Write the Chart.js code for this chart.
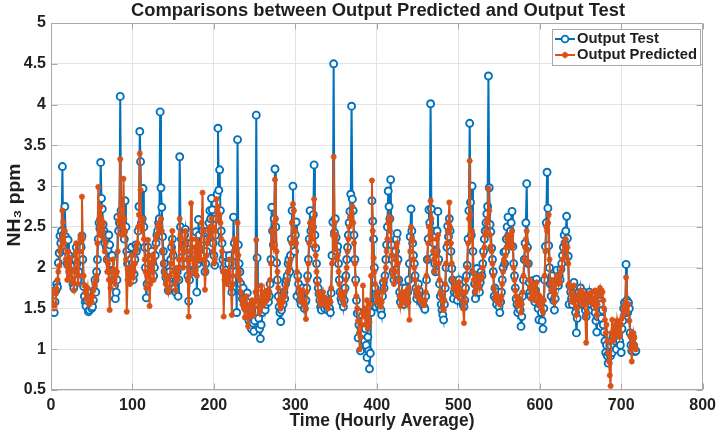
<!DOCTYPE html>
<html><head><meta charset="utf-8">
<script src="https://cdn.jsdelivr.net/npm/chart.js@4/dist/chart.umd.min.js"></script>
<style>html,body{margin:0;padding:0;background:#fff;}canvas{display:block;}</style>
</head><body>
<canvas id="c" width="722" height="436"></canvas>
<script>
const outputTest = [
1.53,1.49,1.46,1.45,1.58,1.72,1.80,1.76,2.06,2.18,2.39,2.30,
2.45,3.24,2.40,2.32,2.75,2.38,2.20,2.05,2.34,2.15,1.95,2.10,
2.02,1.88,1.80,1.75,1.92,2.10,2.25,2.05,1.85,1.95,2.15,2.28,
2.25,2.39,2.10,1.77,1.65,1.58,1.53,1.60,1.70,1.46,1.48,1.62,
1.55,1.50,1.52,1.60,1.72,1.85,1.70,1.95,2.10,2.35,2.55,2.48,
3.29,2.85,2.72,2.53,2.45,2.30,2.40,2.25,2.10,2.22,2.40,2.28,
2.05,1.95,2.15,1.90,1.85,1.78,1.62,1.70,1.85,2.62,2.45,2.55,
4.10,2.70,2.55,2.60,2.45,2.35,2.82,2.50,2.20,2.05,2.15,1.98,
1.95,2.10,2.25,2.05,1.85,1.92,2.10,2.28,2.20,2.26,2.45,2.75,
3.67,3.30,2.55,2.60,2.97,2.50,2.25,2.00,1.63,1.80,2.25,2.05,
1.85,1.95,2.10,2.20,2.05,1.90,2.00,2.15,2.30,2.40,2.45,2.55,
2.60,3.91,2.98,2.74,2.38,2.20,2.05,1.95,1.88,1.92,1.81,1.72,
1.80,1.95,2.10,2.25,2.35,2.15,1.90,1.75,1.70,1.85,1.95,1.65,
1.85,3.36,2.50,2.35,2.20,2.05,2.25,2.40,2.47,2.30,2.05,1.90,
1.59,1.85,2.10,2.30,2.20,2.05,1.95,2.15,2.30,2.44,1.70,2.05,
2.59,2.40,2.25,2.10,2.30,2.45,2.35,2.15,1.95,2.05,2.20,2.35,
2.45,2.55,2.70,2.60,2.85,2.71,2.30,2.15,2.03,2.40,2.60,2.90,
3.71,2.95,3.20,2.70,2.45,2.30,2.10,2.00,2.15,2.05,1.97,1.85,
1.90,2.05,2.15,1.95,1.80,1.70,1.85,2.62,2.30,2.15,1.95,1.45,
3.57,2.28,2.05,1.95,1.80,1.70,1.62,1.75,1.60,1.55,1.50,1.58,
1.69,1.45,1.35,1.48,1.30,1.25,1.40,1.32,1.22,1.35,1.55,3.87,
2.12,1.55,1.38,1.25,1.13,1.30,1.45,1.58,1.50,1.62,1.48,1.55,
1.62,1.70,1.58,1.65,1.80,2.10,2.74,2.45,2.28,2.60,3.21,2.50,
2.06,1.85,1.65,1.52,1.45,1.34,1.48,1.60,1.55,1.70,1.62,1.80,
1.85,1.90,2.05,2.10,1.95,2.15,2.35,2.70,3.00,2.55,2.20,2.40,
2.56,1.65,1.90,1.80,1.70,1.60,1.55,1.65,1.75,1.62,1.50,1.58,
1.60,1.75,1.90,2.10,2.35,2.70,2.45,2.30,2.50,2.65,3.26,2.40,
2.24,2.05,1.84,1.75,1.68,1.60,1.52,1.48,1.55,1.62,1.58,1.50,
1.55,1.60,1.52,1.48,1.58,1.50,1.45,1.69,2.15,2.56,4.50,2.43,
2.60,2.37,2.20,2.26,2.05,1.85,1.70,1.62,1.58,1.65,1.52,1.60,
1.75,1.90,2.10,2.25,2.40,2.55,2.69,2.90,3.98,2.84,2.70,2.40,
2.10,1.85,1.60,1.44,1.14,1.30,1.45,0.98,1.25,1.40,1.35,1.20,
1.10,1.25,1.05,0.90,1.15,0.98,0.76,0.95,1.45,2.82,2.57,2.35,
2.00,1.75,1.52,1.60,1.68,1.55,1.62,1.50,1.48,1.42,1.65,1.82,
1.75,1.90,2.10,2.28,2.50,2.94,2.75,2.60,3.08,2.28,2.10,1.95,
1.85,2.05,2.20,2.35,2.42,2.10,1.85,1.70,1.58,1.65,1.75,1.60,
1.55,1.68,1.75,1.62,1.58,1.70,1.85,2.05,2.38,2.72,2.45,2.30,
2.15,2.05,1.90,1.75,1.62,1.68,1.80,1.72,1.65,1.58,1.62,1.55,
1.60,1.52,1.49,1.65,1.85,2.10,2.35,2.71,2.55,4.01,2.72,2.45,
2.12,2.30,2.05,1.95,2.20,2.45,2.69,2.10,1.80,1.65,1.55,1.48,
1.42,1.36,1.55,1.75,2.00,2.25,2.51,2.38,2.60,2.45,2.20,1.99,
1.85,1.62,1.70,1.80,1.75,1.68,1.60,1.72,1.85,1.78,1.65,1.70,
1.62,1.55,1.52,1.60,1.75,1.90,2.03,2.35,2.70,3.77,2.80,2.40,
3.00,2.20,1.95,1.80,1.62,1.70,1.99,1.85,1.78,1.70,1.82,1.95,
1.90,2.05,2.20,2.35,2.45,2.55,2.66,2.75,4.35,2.98,2.53,2.44,
2.24,2.10,1.95,1.65,1.75,1.62,1.55,1.70,1.60,1.52,1.45,1.58,
1.70,1.85,2.00,2.19,2.05,2.20,2.35,2.50,2.62,2.40,2.30,2.45,
2.55,2.69,2.26,2.05,1.90,1.75,1.62,1.55,1.45,1.52,1.60,1.48,
1.28,1.40,1.65,1.85,2.10,2.30,2.55,3.03,2.25,2.05,1.82,1.70,
1.65,1.75,1.84,1.70,1.62,1.58,1.72,1.86,1.65,1.50,1.36,1.55,
1.60,1.45,1.35,1.25,1.50,1.85,2.26,2.55,3.17,2.73,2.27,2.00,
1.80,1.65,1.90,1.75,1.60,1.48,1.62,1.80,1.97,1.85,1.78,1.90,
1.85,1.98,2.05,2.15,2.25,2.40,2.30,2.45,2.63,2.36,2.14,1.55,
1.78,1.70,1.62,1.55,1.68,1.82,1.60,1.45,1.20,1.38,1.55,1.70,
1.62,1.75,1.68,1.55,1.62,1.70,1.58,1.48,1.40,1.52,1.62,1.58,
1.70,1.62,1.55,1.48,1.58,1.65,1.52,1.45,1.35,1.21,1.40,1.55,
1.60,1.55,1.45,1.38,1.48,1.30,1.21,1.10,0.96,1.05,0.92,0.83,
0.95,1.05,0.92,1.10,0.96,1.16,1.05,1.20,1.10,1.00,1.15,1.25,
1.20,1.10,1.05,0.96,1.25,1.35,1.50,1.57,1.45,2.04,1.60,1.45,
1.57,1.50,1.20,1.05,0.98,1.15,1.05,1.00,0.97,0.98
];
const outputPredicted = [
1.55,1.73,1.52,1.50,1.55,1.68,1.74,1.85,1.95,2.02,2.20,2.25,
2.35,2.70,2.56,2.30,2.45,2.10,2.02,1.85,2.20,2.05,1.90,2.12,
1.98,1.82,1.85,1.72,1.95,2.18,2.30,2.08,1.80,1.90,2.20,2.35,
2.40,2.87,2.35,1.90,1.78,1.70,1.62,1.68,1.75,1.58,1.55,1.60,
1.62,1.58,1.65,1.72,1.80,1.78,1.85,1.90,2.30,2.99,2.60,2.40,
2.75,2.60,2.45,2.55,2.35,2.20,2.30,2.10,1.95,2.05,1.85,1.48,
1.75,1.85,1.95,2.10,1.98,1.85,1.80,1.90,1.95,2.20,2.58,2.65,
3.33,2.55,2.40,2.50,3.09,2.60,2.45,2.10,1.46,1.85,2.00,1.90,
1.80,1.95,2.15,2.00,1.88,1.95,2.05,2.20,2.25,2.30,2.50,2.65,
3.40,2.95,2.50,2.45,2.60,2.35,2.10,1.95,1.75,1.90,2.34,2.15,
1.53,1.80,2.05,2.15,1.95,1.85,2.10,2.25,2.35,2.40,2.50,2.54,
2.45,2.52,2.60,2.45,2.20,2.05,1.95,1.90,1.80,1.85,1.75,1.70,
1.75,1.90,2.05,2.30,2.45,2.20,1.95,1.80,1.72,1.90,2.00,1.85,
2.10,2.60,2.40,2.25,2.10,2.00,2.20,2.35,2.45,2.30,2.10,1.85,
1.40,1.90,2.20,2.79,2.35,2.10,1.95,2.05,2.25,2.35,1.90,2.10,
2.30,2.20,2.10,2.25,2.55,2.92,2.45,2.10,1.73,1.95,2.15,2.30,
2.35,2.45,2.50,2.40,2.60,2.50,2.20,2.05,2.10,2.45,2.84,2.70,
2.75,2.60,2.65,2.55,2.35,2.20,1.95,1.40,1.85,1.95,1.90,1.80,
1.85,1.95,2.10,1.90,1.75,1.42,1.80,2.20,2.35,2.27,2.30,1.90,
2.55,2.15,1.95,1.85,1.70,1.62,1.55,1.60,1.50,1.39,1.55,1.65,
1.50,1.28,1.45,1.55,1.40,1.48,1.60,1.50,1.42,1.58,1.70,2.34,
1.72,1.60,1.52,1.45,1.50,1.78,1.65,1.55,1.62,1.70,1.58,1.65,
1.60,1.72,1.65,1.70,1.85,2.05,2.45,2.30,2.25,2.55,3.08,2.60,
2.20,1.95,1.75,1.60,1.55,1.50,1.52,1.65,1.58,1.70,1.65,1.75,
1.80,1.85,1.95,2.05,2.00,2.10,2.30,2.55,2.78,2.70,2.35,2.45,
2.30,1.95,1.85,1.75,1.68,1.62,1.58,1.70,1.72,1.60,1.55,1.50,
1.37,1.70,1.85,2.05,2.30,2.55,2.40,2.35,2.45,2.60,2.84,2.27,
2.15,1.95,1.80,1.70,1.65,1.58,1.55,1.60,1.65,1.70,1.62,1.55,
1.58,1.62,1.55,1.50,1.56,1.60,1.58,1.75,2.05,2.40,3.36,2.55,
2.23,2.40,2.10,2.15,1.95,1.80,1.66,1.70,1.62,1.68,1.60,1.55,
1.70,1.85,2.00,2.20,2.35,2.50,2.62,2.60,2.68,2.75,2.55,2.30,
2.05,1.80,1.65,1.50,1.35,1.20,1.00,1.15,1.30,1.45,1.78,1.40,
1.50,1.30,1.45,1.60,1.25,1.38,1.33,1.55,1.90,3.07,2.45,2.12,
1.95,1.80,1.65,1.58,1.70,1.62,1.55,1.60,1.52,1.58,1.70,1.85,
1.72,1.85,2.00,2.20,2.35,2.55,2.62,2.45,2.60,2.15,1.97,1.90,
1.80,1.95,2.10,2.25,2.30,2.05,1.85,1.65,1.53,1.60,1.70,1.62,
1.58,1.65,1.70,1.60,1.55,1.62,1.75,1.36,2.20,2.50,2.35,2.33,
2.10,2.00,1.85,1.72,1.65,1.70,1.75,1.68,1.62,1.60,1.58,1.55,
1.58,1.54,1.60,1.70,1.90,2.10,2.30,2.50,2.40,2.82,2.60,2.35,
2.20,2.10,1.95,2.05,2.15,2.35,2.40,2.05,1.85,1.70,1.66,1.60,
1.50,1.48,1.60,1.80,2.05,2.30,2.45,2.55,2.80,2.50,2.30,2.05,
1.85,1.75,1.73,1.78,1.80,1.70,1.65,1.75,1.82,1.75,1.70,1.68,
1.60,1.50,1.32,1.58,1.70,1.85,2.00,2.30,2.60,3.31,2.65,2.35,
2.45,1.95,1.85,1.78,1.70,1.75,1.90,1.78,1.80,1.75,1.85,1.90,
1.88,2.00,2.15,2.25,2.40,2.45,2.55,2.60,2.97,2.70,2.40,2.26,
2.20,2.05,1.90,1.75,1.62,1.68,1.60,1.65,1.62,1.58,1.55,1.60,
1.65,1.80,1.95,2.10,2.05,2.15,2.25,2.35,2.40,2.30,2.25,2.35,
2.40,2.45,2.27,2.00,1.85,1.72,1.65,1.58,1.53,1.55,1.62,1.58,
1.45,1.55,1.70,1.90,2.10,2.25,2.35,2.45,2.22,2.05,1.85,1.75,
1.62,1.72,1.80,1.75,1.65,1.60,1.70,1.82,1.68,1.60,1.55,1.65,
1.58,1.52,1.48,1.45,1.60,1.90,2.20,2.50,2.45,2.55,2.65,2.10,
1.80,1.72,1.85,1.75,1.65,1.58,1.68,1.82,1.90,1.85,1.80,1.88,
1.82,1.95,2.00,2.10,2.20,2.30,2.25,2.35,2.12,2.25,2.05,1.80,
1.75,1.68,1.60,1.58,1.65,1.78,1.62,1.52,1.42,1.50,1.60,1.68,
1.65,1.72,1.60,1.55,1.62,1.68,1.55,1.40,1.08,1.45,1.65,1.60,
1.68,1.65,1.58,1.70,1.62,1.55,1.60,1.72,1.50,1.42,1.55,1.65,
1.70,1.75,1.68,1.72,1.70,1.60,1.50,1.36,1.20,1.30,1.10,0.95,
0.85,0.68,0.55,1.20,1.36,1.10,1.25,1.15,1.30,1.20,1.35,1.28,
1.25,1.15,1.20,1.30,1.38,1.42,1.50,1.55,1.50,1.88,1.45,1.55,
1.55,1.35,1.16,1.00,0.85,1.10,1.20,1.14,1.05,1.00
];
const xTicks = [0,100,200,300,400,500,600,700,800];
const yTicks = [0.5,1,1.5,2,2.5,3,3.5,4,4.5,5];
const seriesNames = ['Output Test','Output Predicted'];
const titleText = 'Comparisons between Output Predicted and Output Test';
const xTitle = 'Time (Hourly Average)';
const yTitle = 'NH\u2083 ppm';

const BLUE = '#0072BD', ORANGE = '#D95319';
const GRID = '#e3e3e3', AXIS = '#a8a8a8', TXT = '#1f1f1f';
const FAM = 'Arial, "Liberation Sans", Helvetica, sans-serif';

function fitText(ctx, str, x, y, size, targetW, align, rot) {
  ctx.save();
  ctx.font = 'bold ' + size + 'px ' + FAM;
  const w = ctx.measureText(str).width;
  let s = targetW ? targetW / w : 1;
  s = Math.max(0.8, Math.min(1.25, s));
  ctx.translate(x, y);
  if (rot) ctx.rotate(rot);
  ctx.scale(s, 1);
  ctx.fillStyle = TXT;
  ctx.textAlign = align || 'center';
  ctx.textBaseline = 'middle';
  ctx.fillText(str, 0, 0);
  ctx.restore();
}

const deco = {
  id: 'deco',
  beforeDraw(chart) {
    const ctx = chart.ctx;
    ctx.save(); ctx.fillStyle = '#fff'; ctx.fillRect(0, 0, chart.width, chart.height); ctx.restore();
  },
  afterDraw(chart) {
    const ctx = chart.ctx, a = chart.chartArea, xs = chart.scales.x, ys = chart.scales.y;
    ctx.save();
    ctx.strokeStyle = AXIS; ctx.lineWidth = 1;
    const L = Math.round(a.left) + 0.5, R = Math.round(a.right) - 0.5, T = Math.round(a.top) + 0.5, B = Math.round(a.bottom) - 0.5;
    ctx.beginPath();
    ctx.rect(L, T, R - L, B - T);
    xTicks.forEach(v => {
      const p = Math.round(xs.getPixelForValue(v)) + 0.5;
      ctx.moveTo(p, B); ctx.lineTo(p, B - 6);
      ctx.moveTo(p, T); ctx.lineTo(p, T + 6);
    });
    yTicks.forEach(v => {
      const p = Math.round(ys.getPixelForValue(v)) + 0.5;
      ctx.moveTo(L, p); ctx.lineTo(L + 6, p);
      ctx.moveTo(R, p); ctx.lineTo(R - 6, p);
    });
    ctx.stroke();
    ctx.restore();

    fitText(ctx, titleText, 378, 11, 18, 494);
    fitText(ctx, xTitle, 382, 421, 17.5, 185);
    fitText(ctx, yTitle, 15, 205, 17.5, 83, 'center', -Math.PI / 2);

    // legend
    const bx = 552, by = 29, bw = 148, bh = 36;
    ctx.save();
    ctx.fillStyle = '#fff'; ctx.fillRect(bx, by, bw, bh);
    ctx.strokeStyle = AXIS; ctx.lineWidth = 1; ctx.strokeRect(bx + 0.5, by + 0.5, bw, bh);
    const rows = [{c: BLUE, y: 39, t: seriesNames[0], w: 82, m: 'o'}, {c: ORANGE, y: 55, t: seriesNames[1], w: 120, m: '*'}];
    rows.forEach(r => {
      ctx.strokeStyle = r.c; ctx.lineWidth = 2;
      ctx.beginPath(); ctx.moveTo(555, r.y); ctx.lineTo(575, r.y); ctx.stroke();
      if (r.m === 'o') {
        ctx.lineWidth = 1.8; ctx.fillStyle = '#fff';
        ctx.beginPath(); ctx.arc(565, r.y, 3.4, 0, Math.PI * 2); ctx.fill(); ctx.stroke();
      } else {
        ctx.lineWidth = 1.7; ctx.beginPath();
        for (let k = 0; k < 4; k++) {
          const ang = k * Math.PI / 4;
          ctx.moveTo(565 - 3.2 * Math.cos(ang), r.y - 3.2 * Math.sin(ang));
          ctx.lineTo(565 + 3.2 * Math.cos(ang), r.y + 3.2 * Math.sin(ang));
        }
        ctx.stroke();
      }
      fitText(ctx, r.t, 577, r.y, 14.7, r.w, 'left');
    });
    ctx.restore();
  }
};

const tickFont = {family: FAM, size: 16, weight: 'bold'};

new Chart(document.getElementById('c'), {
  type: 'line',
  data: {
    datasets: [
      {
        label: seriesNames[0],
        data: outputTest.map((v, i) => ({x: i + 1, y: v})),
        borderColor: BLUE, backgroundColor: '#ffffff',
        borderWidth: 2, pointStyle: 'circle', pointRadius: 3.5, pointBorderWidth: 1.9,
        pointBackgroundColor: '#ffffff', pointBorderColor: BLUE,
        tension: 0, order: 2
      },
      {
        label: seriesNames[1],
        data: outputPredicted.map((v, i) => ({x: i + 1, y: v})),
        borderColor: ORANGE, backgroundColor: ORANGE,
        borderWidth: 2, pointStyle: 'star', pointRadius: 3, pointBorderWidth: 1.7,
        pointBorderColor: ORANGE, pointBackgroundColor: ORANGE,
        tension: 0, order: 1
      }
    ]
  },
  options: {
    responsive: false, animation: false, devicePixelRatio: 1,
    layout: {padding: {top: 23, right: 16.5, left: 0, bottom: 0}},
    plugins: {legend: {display: false}, title: {display: false}, tooltip: {enabled: false}},
    scales: {
      x: {
        type: 'linear', min: 0, max: 800,
        afterBuildTicks: s => { s.ticks = xTicks.map(v => ({value: v})); },
        afterFit: s => { s.height = 46; },
        grid: {color: GRID, drawTicks: false, lineWidth: 1},
        border: {display: false},
        ticks: {padding: 6, font: tickFont, color: TXT, autoSkip: false, maxRotation: 0, callback: v => String(v)}
      },
      y: {
        type: 'linear', min: 0.5, max: 5,
        afterBuildTicks: s => { s.ticks = yTicks.map(v => ({value: v})); },
        afterFit: s => { s.width = 51; },
        grid: {color: GRID, drawTicks: false, lineWidth: 1},
        border: {display: false},
        ticks: {padding: 5, font: tickFont, color: TXT, autoSkip: false, callback: v => String(v)}
      }
    }
  },
  plugins: [deco]
});
</script>
</body></html>
